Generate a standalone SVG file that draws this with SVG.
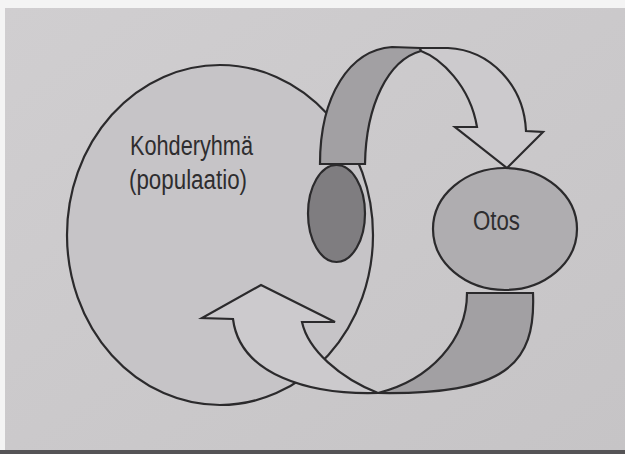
<svg xmlns="http://www.w3.org/2000/svg" width="625" height="454" viewBox="0 0 625 454">
  <defs>
    <linearGradient id="paper" x1="0" y1="0" x2="1" y2="1">
      <stop offset="0" stop-color="#d0ced0"/>
      <stop offset="1" stop-color="#c6c4c6"/>
    </linearGradient>
    <style>
      .ln { stroke: #2b2a2c; stroke-width: 2.2; stroke-linejoin: miter; }
      .lbl { font-family: "Liberation Sans", Arial, sans-serif; font-size: 27px; fill: #2e2d2f; }
      .band { fill: #a2a0a3; }
      .arrow { fill: #cccacd; }
    </style>
  </defs>

  <rect x="0" y="0" width="625" height="454" fill="#f4f4f4"/>
  <rect x="5" y="8" width="620" height="442" fill="url(#paper)"/>
  <rect x="0" y="450" width="625" height="4" fill="#555456"/>

  <g id="population">
    <ellipse class="ln" cx="220" cy="235" rx="153" ry="170" fill="#c6c4c7"/>
    <text class="lbl" x="130" y="155" textLength="123" lengthAdjust="spacingAndGlyphs">Kohderyhmä</text>
    <text class="lbl" x="129" y="189" textLength="118" lengthAdjust="spacingAndGlyphs">(populaatio)</text>
  </g>

  <g id="subset">
    <ellipse class="ln" cx="336.5" cy="213.5" rx="28.5" ry="48.5" fill="#7f7d80"/>
  </g>

  <g id="connectors">
    <path id="top-band" class="ln band" d="M320,164 L365,164 C366,105 388,60 421,51 L420,48 L392,47 C350,50 320,95 320,164 Z"/>
    <path id="top-arrow" class="ln arrow" d="M420,48 L448,48 C490,50 524,85 526,131 L543,132 L507,168 L455,127 L477,127 C470,85 440,58 421,51 Z"/>
    <path id="bottom-band" class="ln band" d="M467,293 L533,293 C536,365 505,395 378,393 C430,380 467,340 467,293 Z"/>
    <path id="bottom-arrow" class="ln arrow" d="M378,393 C310,395 240,375 233,319 L202,318 L261,285 L335,322 L302,322 C308,350 340,378 378,393 Z"/>
  </g>

  <g id="sample">
    <ellipse class="ln" cx="505" cy="229" rx="72" ry="61" fill="#afadb0"/>
    <text class="lbl" x="473" y="230" textLength="47" lengthAdjust="spacingAndGlyphs">Otos</text>
  </g>
</svg>
